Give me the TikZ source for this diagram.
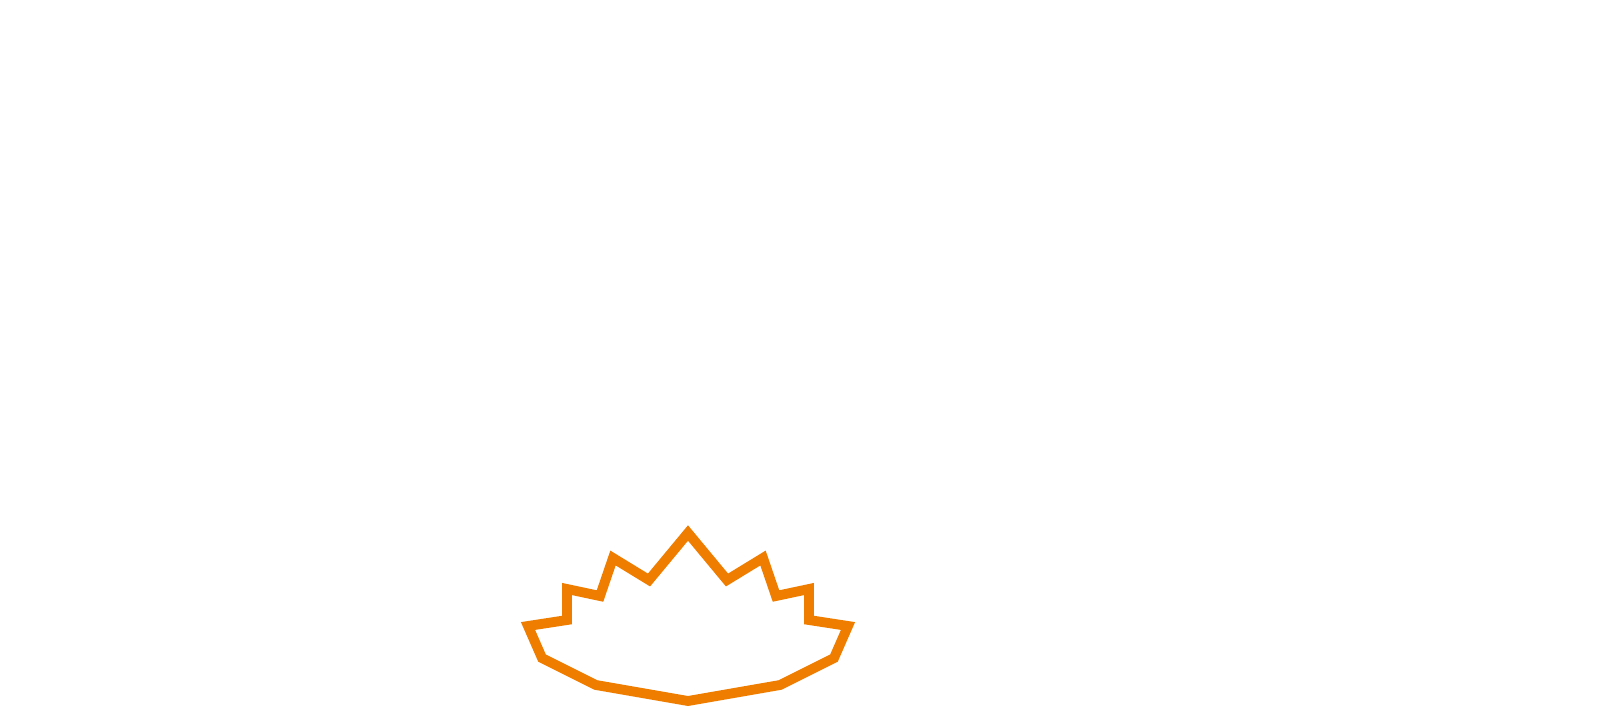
\documentclass[tikz,border=0pt]{standalone}
\usepackage{tikz}
\definecolor{crownorange}{RGB}{238,125,0}
\begin{document}
\begin{tikzpicture}[x=0.1mm,y=-0.1mm,
                    crown/.style={draw=crownorange,line width=2.8pt,miter limit=10}]
  \useasboundingbox (0,0) rectangle (1600,706);
  \draw[crown] (688,533) -- (727,580) -- (763,558) -- (776,596) -- (809,589)
    -- (809,620) -- (848,626) -- (834,658) -- (780,685) -- (688,701)
    -- (596,685) -- (542,658) -- (528,626) -- (567,620) -- (567,589)
    -- (600,596) -- (613,558) -- (649,580) -- cycle;
\end{tikzpicture}
\end{document}
